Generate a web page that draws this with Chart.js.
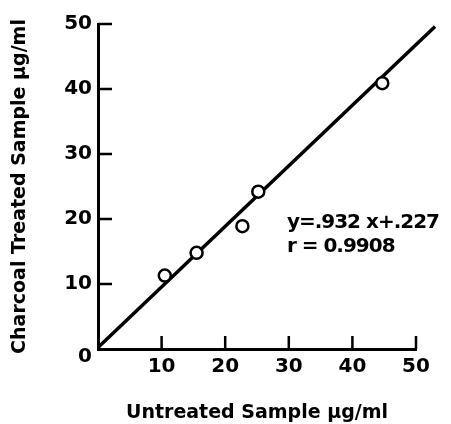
<!DOCTYPE html>
<html>
<head>
<meta charset="utf-8">
<script src="https://cdn.jsdelivr.net/npm/chart.js@4"></script>
<style>
  html, body { margin: 0; padding: 0; background: #fff; }
  #wrap { width: 451px; height: 424px; }
</style>
</head>
<body>
<div id="wrap"><canvas id="scatter"></canvas></div>
<script>
// data
const untreated = [10.5, 15.5, 22.7, 25.2, 44.7];
const charcoal  = [11.3, 14.8, 18.9, 24.2, 40.9];
const fitX = [0, 53];
const slope = 0.932, intercept = 0.227;
const tickValues = [0, 10, 20, 30, 40, 50];
const equationLines = ['y=.932 x+.227', 'r = 0.9908'];

const FONT = '"DejaVu Sans", sans-serif';

const points = untreated.map((x, i) => ({ x: x, y: charcoal[i] }));
const fitLine = fitX.map(x => ({ x: x, y: slope * x + intercept }));

// tick marks drawn inward, the corner "0" and the equation text
const inwardTicks = {
  id: 'inwardTicks',
  afterDatasetsDraw(chart) {
    const { ctx, scales } = chart;
    const xs = scales.x, ys = scales.y;
    const x0 = xs.getPixelForValue(0), y0 = ys.getPixelForValue(0);
    ctx.save();
    ctx.strokeStyle = '#000';
    ctx.lineWidth = 2.5;
    ctx.beginPath();
    tickValues.slice(1).forEach(v => {
      const py = ys.getPixelForValue(v);
      ctx.moveTo(x0, py); ctx.lineTo(x0 + 14, py);
      const px = xs.getPixelForValue(v);
      ctx.moveTo(px, y0); ctx.lineTo(px, y0 - 13);
    });
    ctx.stroke();

    ctx.fillStyle = '#000';
    ctx.font = 'bold 20px ' + FONT;
    ctx.textBaseline = 'middle';
    ctx.textAlign = 'center';
    ctx.fillText('0', x0 - 13, y0 + 8);

    ctx.textAlign = 'left';
    ctx.letterSpacing = '-1px';
    const tx = xs.getPixelForValue(29.7);
    ctx.fillText(equationLines[0], tx, ys.getPixelForValue(19.4));
    ctx.fillText(equationLines[1], tx, ys.getPixelForValue(15.8));
    ctx.restore();
  }
};

new Chart(document.getElementById('scatter'), {
  type: 'scatter',
  data: {
    datasets: [
      {
        label: 'fit',
        type: 'line',
        data: fitLine,
        borderColor: '#000',
        borderWidth: 3.5,
        pointRadius: 0,
        clip: false,
        order: 2
      },
      {
        label: 'samples',
        data: points,
        pointRadius: 6,
        pointBorderWidth: 2.5,
        pointBackgroundColor: '#fff',
        pointBorderColor: '#000',
        order: 1
      }
    ]
  },
  options: {
    responsive: true,
    maintainAspectRatio: false,
    animation: false,
    layout: { padding: { top: 24, right: 35, left: 0, bottom: 0 } },
    plugins: { legend: { display: false }, tooltip: { enabled: false } },
    scales: {
      x: {
        type: 'linear',
        min: 0, max: 50,
        afterFit: s => { s.height = 75; },
        afterBuildTicks: s => { s.ticks = tickValues.map(v => ({ value: v })); },
        grid: { display: false, drawTicks: false },
        border: { color: '#000', width: 3 },
        ticks: {
          padding: 6,
          color: '#000',
          font: { family: FONT, size: 20, weight: 'bold' },
          callback: v => (v === 0 ? '' : v)
        },
        title: {
          display: true,
          text: 'Untreated Sample µg/ml',
          color: '#000',
          padding: 0,
          font: { family: FONT, size: 19, weight: 'bold' }
        }
      },
      y: {
        type: 'linear',
        min: 0, max: 50,
        afterFit: s => { s.width = 98; },
        afterBuildTicks: s => { s.ticks = tickValues.map(v => ({ value: v })); },
        grid: { display: false, drawTicks: false },
        border: { color: '#000', width: 3 },
        ticks: {
          padding: 6,
          color: '#000',
          font: { family: FONT, size: 20, weight: 'bold' },
          callback: v => (v === 0 ? '' : v)
        },
        title: {
          display: true,
          text: 'Charcoal Treated Sample µg/ml',
          color: '#000',
          padding: { top: 9, bottom: 0 },
          font: { family: FONT, size: 19, weight: 'bold' }
        }
      }
    }
  },
  plugins: [inwardTicks]
});
</script>
</body>
</html>
